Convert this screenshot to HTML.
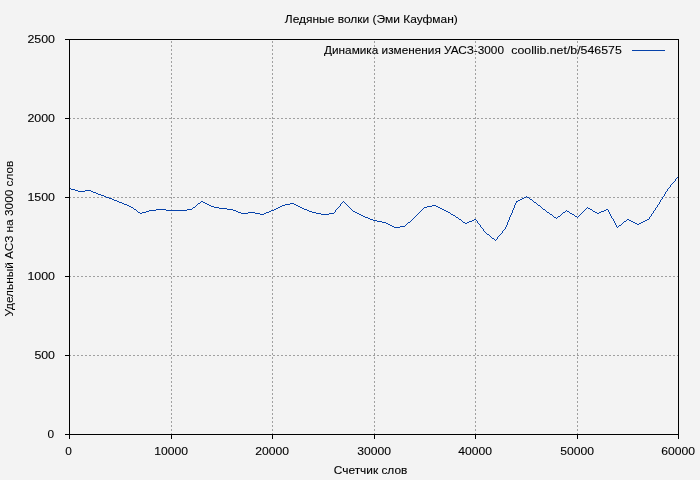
<!DOCTYPE html>
<html><head><meta charset="utf-8"><title>chart</title>
<style>
html,body{margin:0;padding:0;background:#f3f3f3;}
body{width:700px;height:480px;overflow:hidden;}
svg{display:block;will-change:transform;}
text{font-family:"Liberation Sans",sans-serif;font-size:11.8px;fill:#000;stroke:#000;stroke-width:0.1px;}
.d{font-size:11.5px;}
</style></head><body>
<svg width="700" height="480" viewBox="0 0 700 480">
<rect x="0" y="0" width="700" height="480" fill="#f3f3f3"/>
<g shape-rendering="crispEdges" stroke="#a0a0a0" stroke-width="1" stroke-dasharray="2 2" fill="none">
<line x1="69" y1="355.5" x2="678" y2="355.5"/>
<line x1="69" y1="276.5" x2="678" y2="276.5"/>
<line x1="69" y1="197.5" x2="678" y2="197.5"/>
<line x1="69" y1="118.5" x2="678" y2="118.5"/>
<line x1="171.5" y1="435" x2="171.5" y2="40"/>
<line x1="272.5" y1="435" x2="272.5" y2="40"/>
<line x1="374.5" y1="435" x2="374.5" y2="40"/>
<line x1="475.5" y1="435" x2="475.5" y2="40"/>
<line x1="577.5" y1="435" x2="577.5" y2="40"/>
</g>
<path d="M678 176h1v1h-1zM677 177h1v1h-1zM676 178h1v1h-1zM675 179h1v1h-1zM675 180h1v1h-1zM674 181h1v1h-1zM673 182h1v1h-1zM672 183h1v1h-1zM671 184h1v1h-1zM670 185h1v1h-1zM670 186h1v1h-1zM669 187h1v1h-1zM69 188h2v1h-2zM668 188h1v1h-1zM71 189h4v1h-4zM667 189h1v1h-1zM75 190h3v1h-3zM85 190h6v1h-6zM667 190h1v1h-1zM78 191h7v1h-7zM91 191h2v1h-2zM666 191h1v1h-1zM93 192h3v1h-3zM665 192h1v1h-1zM96 193h2v1h-2zM665 193h1v1h-1zM98 194h3v1h-3zM664 194h1v1h-1zM101 195h3v1h-3zM664 195h1v1h-1zM104 196h2v1h-2zM526 196h1v1h-1zM663 196h1v1h-1zM106 197h3v1h-3zM524 197h2v1h-2zM527 197h2v1h-2zM662 197h1v1h-1zM109 198h3v1h-3zM522 198h2v1h-2zM529 198h1v1h-1zM662 198h1v1h-1zM112 199h2v1h-2zM520 199h2v1h-2zM530 199h2v1h-2zM661 199h1v1h-1zM114 200h3v1h-3zM518 200h2v1h-2zM532 200h1v1h-1zM660 200h1v1h-1zM117 201h2v1h-2zM201 201h2v1h-2zM343 201h1v1h-1zM516 201h2v1h-2zM533 201h1v1h-1zM660 201h1v1h-1zM119 202h3v1h-3zM200 202h1v1h-1zM203 202h2v1h-2zM342 202h1v1h-1zM344 202h1v1h-1zM516 202h1v1h-1zM534 202h2v1h-2zM659 202h1v1h-1zM122 203h2v1h-2zM198 203h2v1h-2zM205 203h2v1h-2zM290 203h4v1h-4zM341 203h1v1h-1zM345 203h1v1h-1zM515 203h1v1h-1zM536 203h1v1h-1zM659 203h1v1h-1zM124 204h3v1h-3zM197 204h1v1h-1zM207 204h2v1h-2zM285 204h5v1h-5zM294 204h2v1h-2zM340 204h1v1h-1zM346 204h1v1h-1zM515 204h1v1h-1zM537 204h1v1h-1zM658 204h1v1h-1zM127 205h2v1h-2zM196 205h1v1h-1zM209 205h2v1h-2zM282 205h3v1h-3zM296 205h2v1h-2zM340 205h1v1h-1zM347 205h1v1h-1zM432 205h4v1h-4zM514 205h1v1h-1zM538 205h2v1h-2zM657 205h1v1h-1zM129 206h2v1h-2zM195 206h1v1h-1zM211 206h3v1h-3zM280 206h2v1h-2zM298 206h2v1h-2zM339 206h1v1h-1zM348 206h1v1h-1zM427 206h5v1h-5zM436 206h2v1h-2zM514 206h1v1h-1zM540 206h1v1h-1zM657 206h1v1h-1zM131 207h2v1h-2zM193 207h2v1h-2zM214 207h5v1h-5zM278 207h2v1h-2zM300 207h2v1h-2zM338 207h1v1h-1zM349 207h1v1h-1zM424 207h3v1h-3zM438 207h2v1h-2zM514 207h1v1h-1zM541 207h1v1h-1zM587 207h1v1h-1zM656 207h1v1h-1zM133 208h1v1h-1zM192 208h1v1h-1zM219 208h8v1h-8zM276 208h2v1h-2zM302 208h2v1h-2zM337 208h1v1h-1zM350 208h1v1h-1zM423 208h1v1h-1zM440 208h2v1h-2zM513 208h1v1h-1zM542 208h1v1h-1zM586 208h1v1h-1zM588 208h2v1h-2zM655 208h1v1h-1zM134 209h2v1h-2zM156 209h10v1h-10zM187 209h5v1h-5zM227 209h6v1h-6zM274 209h2v1h-2zM304 209h3v1h-3zM336 209h1v1h-1zM351 209h1v1h-1zM422 209h1v1h-1zM442 209h2v1h-2zM513 209h1v1h-1zM543 209h2v1h-2zM585 209h1v1h-1zM590 209h2v1h-2zM606 209h2v1h-2zM655 209h1v1h-1zM136 210h1v1h-1zM149 210h7v1h-7zM166 210h21v1h-21zM233 210h3v1h-3zM271 210h3v1h-3zM307 210h2v1h-2zM335 210h1v1h-1zM352 210h1v1h-1zM421 210h1v1h-1zM444 210h2v1h-2zM512 210h1v1h-1zM545 210h1v1h-1zM566 210h1v1h-1zM584 210h1v1h-1zM592 210h1v1h-1zM604 210h2v1h-2zM608 210h1v1h-1zM654 210h1v1h-1zM137 211h1v1h-1zM146 211h3v1h-3zM236 211h2v1h-2zM269 211h2v1h-2zM309 211h3v1h-3zM335 211h1v1h-1zM353 211h2v1h-2zM420 211h1v1h-1zM446 211h2v1h-2zM512 211h1v1h-1zM546 211h1v1h-1zM565 211h1v1h-1zM567 211h2v1h-2zM583 211h1v1h-1zM593 211h2v1h-2zM601 211h3v1h-3zM608 211h1v1h-1zM653 211h1v1h-1zM138 212h2v1h-2zM142 212h4v1h-4zM238 212h3v1h-3zM248 212h7v1h-7zM266 212h3v1h-3zM312 212h4v1h-4zM334 212h1v1h-1zM355 212h2v1h-2zM419 212h1v1h-1zM448 212h2v1h-2zM512 212h1v1h-1zM547 212h2v1h-2zM563 212h2v1h-2zM569 212h1v1h-1zM582 212h1v1h-1zM595 212h2v1h-2zM599 212h2v1h-2zM609 212h1v1h-1zM653 212h1v1h-1zM140 213h2v1h-2zM241 213h7v1h-7zM255 213h5v1h-5zM264 213h2v1h-2zM316 213h5v1h-5zM329 213h5v1h-5zM357 213h2v1h-2zM418 213h1v1h-1zM450 213h1v1h-1zM511 213h1v1h-1zM549 213h1v1h-1zM562 213h1v1h-1zM570 213h2v1h-2zM581 213h1v1h-1zM597 213h2v1h-2zM609 213h1v1h-1zM652 213h1v1h-1zM260 214h4v1h-4zM321 214h8v1h-8zM359 214h2v1h-2zM417 214h1v1h-1zM451 214h2v1h-2zM511 214h1v1h-1zM550 214h2v1h-2zM561 214h1v1h-1zM572 214h2v1h-2zM580 214h1v1h-1zM610 214h1v1h-1zM651 214h1v1h-1zM361 215h2v1h-2zM416 215h1v1h-1zM453 215h2v1h-2zM510 215h1v1h-1zM552 215h1v1h-1zM560 215h1v1h-1zM574 215h1v1h-1zM579 215h1v1h-1zM610 215h1v1h-1zM651 215h1v1h-1zM363 216h2v1h-2zM415 216h1v1h-1zM455 216h1v1h-1zM510 216h1v1h-1zM553 216h1v1h-1zM558 216h2v1h-2zM575 216h2v1h-2zM578 216h1v1h-1zM611 216h1v1h-1zM650 216h1v1h-1zM365 217h3v1h-3zM414 217h1v1h-1zM456 217h2v1h-2zM509 217h1v1h-1zM554 217h2v1h-2zM557 217h1v1h-1zM577 217h1v1h-1zM611 217h1v1h-1zM649 217h1v1h-1zM368 218h2v1h-2zM413 218h1v1h-1zM458 218h1v1h-1zM509 218h1v1h-1zM556 218h1v1h-1zM612 218h1v1h-1zM649 218h1v1h-1zM370 219h3v1h-3zM412 219h1v1h-1zM459 219h2v1h-2zM474 219h2v1h-2zM509 219h1v1h-1zM613 219h1v1h-1zM627 219h2v1h-2zM647 219h2v1h-2zM373 220h4v1h-4zM411 220h1v1h-1zM461 220h1v1h-1zM472 220h2v1h-2zM476 220h1v1h-1zM508 220h1v1h-1zM613 220h1v1h-1zM626 220h1v1h-1zM629 220h2v1h-2zM645 220h2v1h-2zM377 221h5v1h-5zM410 221h1v1h-1zM462 221h1v1h-1zM469 221h3v1h-3zM477 221h1v1h-1zM508 221h1v1h-1zM614 221h1v1h-1zM624 221h2v1h-2zM631 221h2v1h-2zM643 221h2v1h-2zM382 222h4v1h-4zM408 222h2v1h-2zM463 222h2v1h-2zM467 222h2v1h-2zM477 222h1v1h-1zM507 222h1v1h-1zM614 222h1v1h-1zM623 222h1v1h-1zM633 222h2v1h-2zM641 222h2v1h-2zM386 223h2v1h-2zM407 223h1v1h-1zM465 223h2v1h-2zM478 223h1v1h-1zM507 223h1v1h-1zM615 223h1v1h-1zM622 223h1v1h-1zM635 223h2v1h-2zM639 223h2v1h-2zM388 224h2v1h-2zM406 224h1v1h-1zM479 224h1v1h-1zM507 224h1v1h-1zM615 224h1v1h-1zM621 224h1v1h-1zM637 224h2v1h-2zM390 225h2v1h-2zM405 225h1v1h-1zM480 225h1v1h-1zM506 225h1v1h-1zM616 225h1v1h-1zM619 225h2v1h-2zM392 226h2v1h-2zM400 226h5v1h-5zM480 226h1v1h-1zM506 226h1v1h-1zM616 226h1v1h-1zM618 226h1v1h-1zM394 227h6v1h-6zM481 227h1v1h-1zM505 227h1v1h-1zM617 227h1v1h-1zM482 228h1v1h-1zM505 228h1v1h-1zM483 229h1v1h-1zM504 229h1v1h-1zM483 230h1v1h-1zM503 230h1v1h-1zM484 231h1v1h-1zM502 231h1v1h-1zM485 232h1v1h-1zM502 232h1v1h-1zM486 233h1v1h-1zM501 233h1v1h-1zM487 234h2v1h-2zM500 234h1v1h-1zM489 235h1v1h-1zM499 235h1v1h-1zM490 236h1v1h-1zM498 236h1v1h-1zM491 237h1v1h-1zM497 237h1v1h-1zM492 238h2v1h-2zM497 238h1v1h-1zM494 239h1v1h-1zM496 239h1v1h-1zM495 240h1v1h-1z" fill="#0642aa" stroke="none" shape-rendering="crispEdges"/>
<g shape-rendering="crispEdges" stroke="#000" stroke-width="1" fill="none">
<rect x="69.5" y="39.5" width="609" height="395"/>
<line x1="65" y1="355.5" x2="69" y2="355.5"/>
<line x1="65" y1="276.5" x2="69" y2="276.5"/>
<line x1="65" y1="197.5" x2="69" y2="197.5"/>
<line x1="65" y1="118.5" x2="69" y2="118.5"/>
<line x1="65" y1="39.5" x2="69" y2="39.5"/>
<line x1="65" y1="434.5" x2="69" y2="434.5"/>
<line x1="171.5" y1="435" x2="171.5" y2="439"/>
<line x1="272.5" y1="435" x2="272.5" y2="439"/>
<line x1="374.5" y1="435" x2="374.5" y2="439"/>
<line x1="475.5" y1="435" x2="475.5" y2="439"/>
<line x1="577.5" y1="435" x2="577.5" y2="439"/>
<line x1="69.5" y1="435" x2="69.5" y2="439"/>
<line x1="678.5" y1="435" x2="678.5" y2="439"/>
</g>
<line x1="632" y1="50.5" x2="665" y2="50.5" stroke="#0642aa" stroke-width="1" shape-rendering="crispEdges"/>
<g>
<text x="371.3" y="23" text-anchor="middle" textLength="173" lengthAdjust="spacingAndGlyphs">Ледяные волки (Эми Кауфман)</text>
<text x="324" y="54" text-anchor="start" textLength="180" lengthAdjust="spacingAndGlyphs">Динамика изменения УАСЗ-3000</text>
<text x="511.3" y="54" text-anchor="start" textLength="110.5" lengthAdjust="spacingAndGlyphs">coollib.net/b/546575</text>
<text x="55.0" y="43" text-anchor="end" textLength="27.6" lengthAdjust="spacingAndGlyphs" class="d">2500</text>
<text x="55.0" y="122" text-anchor="end" textLength="27.6" lengthAdjust="spacingAndGlyphs" class="d">2000</text>
<text x="55.0" y="201" text-anchor="end" textLength="27.6" lengthAdjust="spacingAndGlyphs" class="d">1500</text>
<text x="55.0" y="280" text-anchor="end" textLength="27.6" lengthAdjust="spacingAndGlyphs" class="d">1000</text>
<text x="55.0" y="359" text-anchor="end" textLength="20.6" lengthAdjust="spacingAndGlyphs" class="d">500</text>
<text x="54.1" y="438" text-anchor="end" textLength="6.6" lengthAdjust="spacingAndGlyphs" class="d">0</text>
<text x="68.5" y="455" text-anchor="middle" textLength="6.6" lengthAdjust="spacingAndGlyphs" class="d">0</text>
<text x="171.1" y="455" text-anchor="middle" textLength="33.8" lengthAdjust="spacingAndGlyphs" class="d">10000</text>
<text x="272.1" y="455" text-anchor="middle" textLength="33.8" lengthAdjust="spacingAndGlyphs" class="d">20000</text>
<text x="374.1" y="455" text-anchor="middle" textLength="33.8" lengthAdjust="spacingAndGlyphs" class="d">30000</text>
<text x="475.1" y="455" text-anchor="middle" textLength="33.8" lengthAdjust="spacingAndGlyphs" class="d">40000</text>
<text x="577.1" y="455" text-anchor="middle" textLength="33.8" lengthAdjust="spacingAndGlyphs" class="d">50000</text>
<text x="678.1" y="455" text-anchor="middle" textLength="33.8" lengthAdjust="spacingAndGlyphs" class="d">60000</text>
<text x="370.6" y="474" text-anchor="middle" textLength="73.5" lengthAdjust="spacingAndGlyphs">Счетчик слов</text>
<g transform="translate(13.1,238.6) rotate(-90)"><text x="0" y="0" text-anchor="middle" textLength="156" lengthAdjust="spacingAndGlyphs" style="stroke-width:0.05px">Удельный АСЗ на 3000 слов</text></g>
</g>
</svg></body></html>
